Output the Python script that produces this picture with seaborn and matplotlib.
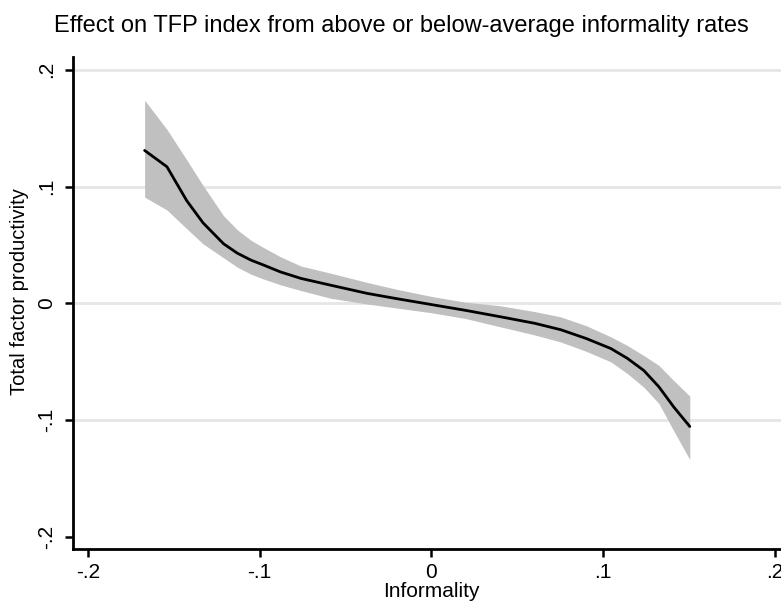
import matplotlib
matplotlib.use("Agg")
import matplotlib.pyplot as plt
import seaborn as sns
import pandas as pd

# Data
informality = [-0.167, -0.154, -0.1425, -0.133, -0.127, -0.121, -0.113, -0.105, -0.098,
               -0.088, -0.076, -0.059, -0.0375, -0.020, 0.0, 0.020, 0.040, 0.060, 0.0752,
               0.090, 0.1044, 0.114, 0.1236, 0.1324, 0.141, 0.1504]
tfp = [0.131, 0.117, 0.088, 0.069, 0.060, 0.051, 0.043, 0.037, 0.033,
       0.027, 0.0214, 0.0157, 0.0086, 0.004, -0.001, -0.006, -0.0114, -0.017, -0.0225,
       -0.030, -0.0386, -0.047, -0.0574, -0.0714, -0.0886, -0.1054]
upper = [0.174, 0.149, 0.123, 0.101, 0.088, 0.075, 0.063, 0.054, 0.048,
         0.040, 0.032, 0.026, 0.018, 0.012, 0.006, 0.001, -0.002, -0.007, -0.0115,
         -0.019, -0.0286, -0.036, -0.0446, -0.0531, -0.066, -0.0794]
lower = [0.091, 0.080, 0.064, 0.051, 0.045, 0.039, 0.031, 0.025, 0.021,
         0.016, 0.011, 0.0045, -0.0005, -0.004, -0.008, -0.013, -0.020, -0.027, -0.033,
         -0.041, -0.050, -0.060, -0.0717, -0.0857, -0.109, -0.1337]
ticks = [-0.2, -0.1, 0.0, 0.1, 0.2]
tick_labels = ["-.2", "-.1", "0", ".1", ".2"]

df = pd.DataFrame({"Informality": informality, "TFP": tfp, "lo": lower, "hi": upper})

sns.set_style("white")
plt.rcParams["font.family"] = ["Liberation Sans", "DejaVu Sans"]
plt.rcParams["text.color"] = "black"
plt.rcParams["xtick.color"] = "black"
plt.rcParams["ytick.color"] = "black"

fig = plt.figure(figsize=(7.81, 6.03), dpi=100)
ax = fig.add_axes([73/781, 1-549/603, 1-73/781, (549-57)/603])

for t in [-0.1, 0.0, 0.1, 0.2]:
    ax.axhline(t, color="#e6e6e6", lw=2, zorder=0)

ax.fill_between(df["Informality"], df["lo"], df["hi"], color="#c0c0c0", lw=0, zorder=1)
sns.lineplot(data=df, x="Informality", y="TFP", color="black", lw=2, ax=ax, zorder=2)

ax.set_xlim(-0.2087, 0.2035)
ax.set_ylim(-0.2103, 0.211)
ax.set_xticks(ticks)
ax.set_xticklabels(tick_labels, fontsize=15)
ax.set_yticks(ticks)
ax.set_yticklabels(tick_labels, fontsize=15, rotation=90, va="center")

for s in ["top", "right"]:
    ax.spines[s].set_visible(False)
for s in ["left", "bottom"]:
    ax.spines[s].set_linewidth(2)
    ax.spines[s].set_color("black")
ax.tick_params(axis="both", which="major", bottom=True, left=True, direction="out",
               length=6, width=1.8, color="black", labelcolor="black")
ax.tick_params(axis="x", pad=4)
ax.tick_params(axis="y", pad=6)

ax.set_xlabel("")
ax.set_ylabel("")
fig.text(431/781, 1-597/603, "Informality", ha="center", va="baseline", fontsize=15)
fig.text(20/781, 1-292/603, "Total factor productivity", ha="center", va="center",
         rotation=90, fontsize=14.5)
fig.text(401/781, 1-32/603, "Effect on TFP index from above or below-average informality rates",
         ha="center", va="baseline", fontsize=17)

fig.savefig("out.png", dpi=100)
